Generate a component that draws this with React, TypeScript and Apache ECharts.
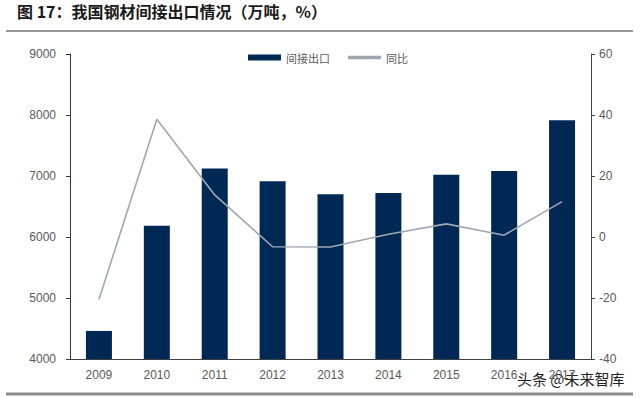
import React, { useEffect, useRef } from "react";
import * as echarts from "echarts";

const years = ["2009", "2010", "2011", "2012", "2013", "2014", "2015", "2016", "2017"];
const indirectExport = [4460, 6185, 7125, 6915, 6700, 6720, 7020, 7080, 7915];
const yoy = [-20.5, 38.6, 13.8, -3.2, -3.3, 0.9, 4.3, 0.6, 11.6];
const leftTicks = { min: 4000, max: 9000, interval: 1000 };
const rightTicks = { min: -40, max: 60, interval: 20 };

const titleText = "图 17：我国钢材间接出口情况（万吨，%）";
const watermark = "头条 @未来智库";

export default function App() {
  const ref = useRef<HTMLDivElement>(null);
  useEffect(() => {
    if (!ref.current) return;
    const chart = echarts.init(ref.current, null, { renderer: "svg" });
    const font = "Arial, 'Liberation Sans', 'Noto Sans CJK SC', sans-serif";
    chart.setOption({
      animation: false,
      backgroundColor: "#ffffff",
      textStyle: { fontFamily: font },
      grid: { left: 70, right: 49, top: 54, bottom: 39, containLabel: false },
      legend: {
        top: 47,
        left: 243,
        itemGap: 18,
        itemWidth: 33,
        itemHeight: 6,
        textStyle: { color: "#595959", fontSize: 11, fontFamily: "'Noto Sans CJK SC', sans-serif" },
        data: [
          { name: "间接出口", icon: "rect" },
          { name: "同比", icon: "path://M0,0 L10,0 L10,1 L0,1 Z" },
        ],
      },
      xAxis: {
        type: "category",
        data: years,
        axisLine: { onZero: false, lineStyle: { color: "#404040", width: 1 } },
        axisTick: { show: false },
        axisLabel: { color: "#595959", fontSize: 12, margin: 10 },
      },
      yAxis: [
        {
          type: "value",
          min: leftTicks.min,
          max: leftTicks.max,
          interval: leftTicks.interval,
          axisLine: { show: true, lineStyle: { color: "#2b3a55", width: 1 } },
          axisTick: { show: true, length: 4, lineStyle: { color: "#2b3a55" } },
          axisLabel: { color: "#595959", fontSize: 12, margin: 14, formatter: (v: number) => String(v) },
          splitLine: { show: false },
        },
        {
          type: "value",
          min: rightTicks.min,
          max: rightTicks.max,
          interval: rightTicks.interval,
          axisLine: { show: true, lineStyle: { color: "#404040", width: 1 } },
          axisTick: { show: true, length: 4, lineStyle: { color: "#404040" } },
          axisLabel: { color: "#595959", fontSize: 12, margin: 8, formatter: (v: number) => String(v) },
          splitLine: { show: false },
        },
      ],
      series: [
        {
          name: "间接出口",
          type: "bar",
          data: indirectExport,
          barWidth: 26,
          itemStyle: { color: "#002855" },
        },
        {
          name: "同比",
          type: "line",
          yAxisIndex: 1,
          data: yoy,
          symbol: "none",
          lineStyle: { color: "#a0a7b4", width: 1.6 },
          itemStyle: { color: "#a0a7b4" },
        },
      ],
      graphic: [
        {
          type: "text",
          left: 17,
          top: 3,
          style: {
            text: titleText,
            fill: "#1a1a1a",
            font: "bold 16px 'Noto Sans CJK SC', sans-serif",
          },
        },
        {
          type: "line",
          shape: { x1: 6, y1: 31, x2: 633, y2: 31 },
          style: { stroke: "#333333", lineWidth: 1 },
        },
        {
          type: "line",
          shape: { x1: 6, y1: 394, x2: 633, y2: 394 },
          style: { stroke: "#8c8c8c", lineWidth: 3 },
        },
        {
          type: "text",
          left: 516,
          top: 370,
          style: {
            text: watermark,
            fill: "#222222",
            stroke: "#ffffff",
            lineWidth: 2,
            font: "15px 'Noto Sans CJK SC', sans-serif",
          },
        },
      ],
    });
    return () => chart.dispose();
  }, []);
  return <div ref={ref} style={{ width: 640, height: 398, position: "absolute", left: 0, top: 0 }} />;
}
